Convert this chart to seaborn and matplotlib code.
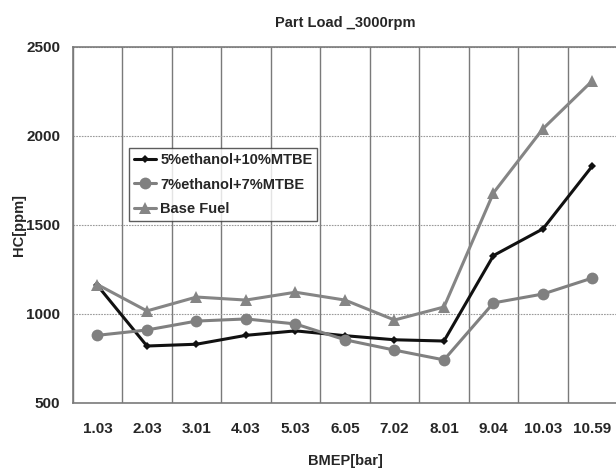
import numpy as np
import pandas as pd
import matplotlib
matplotlib.use("Agg")
import matplotlib.pyplot as plt
from matplotlib.ticker import FixedLocator
import seaborn as sns

# BMEP load points (categorical axis)
bmep = ["1.03", "2.03", "3.01", "4.03", "5.03", "6.05", "7.02", "8.01", "9.04", "10.03", "10.59"]

# HC emissions [ppm]
hc_e5_m10 = [1160, 820, 830, 880, 905, 878, 855, 848, 1328, 1478, 1832]
hc_e7_m7 = [880, 910, 960, 972, 944, 855, 797, 742, 1062, 1112, 1202]
hc_base = [1165, 1017, 1095, 1078, 1122, 1078, 966, 1039, 1680, 2040, 2310]

series_names = ["5%ethanol+10%MTBE", "7%ethanol+7%MTBE", "Base Fuel"]

df = pd.DataFrame({
    "BMEP": bmep * 3,
    "HC": hc_e5_m10 + hc_e7_m7 + hc_base,
    "fuel": [n for n in series_names for _ in bmep],
})

sns.set_style("white")
plt.rcParams["font.family"] = ["Liberation Sans", "DejaVu Sans"]
plt.rcParams["font.weight"] = "bold"

fig = plt.figure(figsize=(6.16, 4.73), dpi=100)
ax = fig.add_axes([0.118, 0.148, 0.884, 0.753])

palette = {series_names[0]: "#111111", series_names[1]: "#808080", series_names[2]: "#858585"}
markers = {series_names[0]: "D", series_names[1]: "o", series_names[2]: "^"}
sizes = {series_names[0]: 4, series_names[1]: 8.5, series_names[2]: 8.5}

for name in series_names:
    sub = df[df["fuel"] == name]
    sns.lineplot(data=sub, x="BMEP", y="HC", ax=ax, color=palette[name], lw=2.2,
                 marker=markers[name], markersize=sizes[name], markeredgewidth=0,
                 label=name, sort=False)

ax.set_xlim(-0.5, len(bmep) - 0.5)
ax.set_ylim(500, 2500)
ax.set_yticks([500, 1000, 1500, 2000, 2500])

# vertical grid at category boundaries, dotted horizontal grid
ax.xaxis.set_minor_locator(FixedLocator(np.arange(-0.5, len(bmep), 1.0)))
ax.grid(True, axis="x", which="minor", color="#7a7a7a", lw=1.0, ls="-")
ax.grid(True, axis="y", which="major", color="#9a9a9a", lw=0.8, ls=(0, (1.5, 1.0)))
ax.tick_params(axis="x", which="major", length=0, pad=14, labelsize=11)
ax.tick_params(axis="x", which="minor", length=6, color="#7a7a7a", width=1.0, direction="out")
ax.tick_params(axis="y", length=6, color="#7a7a7a", width=1.0, direction="out", pad=3, labelsize=11)
ax.set_axisbelow(True)

for s in ["left", "bottom", "top"]:
    ax.spines[s].set_color("#7a7a7a")
    ax.spines[s].set_linewidth(1.2)
ax.spines["right"].set_visible(False)

ax.set_xlabel("BMEP[bar]", fontsize=10.5, fontweight="bold")
ax.set_ylabel("HC[ppm]", fontsize=10.5, fontweight="bold")
ax.xaxis.set_label_coords(0.5, -0.142)
ax.yaxis.set_label_coords(-0.085, 0.5)
ax.set_title("Part Load _3000rpm", fontsize=10.5, fontweight="bold", pad=14)

leg = ax.legend(loc="upper left", bbox_to_anchor=(0.103, 0.716), frameon=True, fancybox=False,
                fontsize=10.5, handlelength=1.5, handletextpad=0.3, labelspacing=0.72,
                borderpad=0.35, borderaxespad=0)
leg.get_frame().set_edgecolor("#333333")
leg.get_frame().set_linewidth(1.0)
for t in leg.get_texts():
    t.set_fontweight("bold")

fig.savefig("out.png", dpi=100)
